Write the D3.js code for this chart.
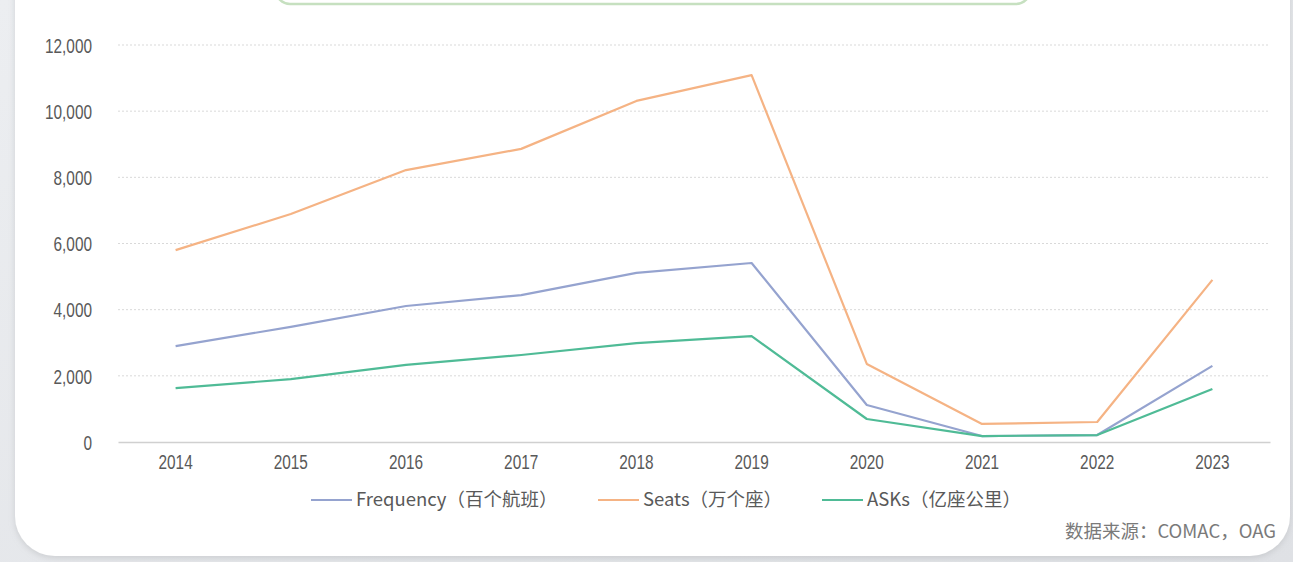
<!DOCTYPE html>
<html><head><meta charset="utf-8">
<script src="https://cdn.jsdelivr.net/npm/d3@7"></script>
<style>
html,body{margin:0;padding:0;background:#e6e7ea;}
svg{display:block;}
</style></head>
<body>
<svg id="c" width="1293" height="562"></svg>
<script>
const years = ["2014","2015","2016","2017","2018","2019","2020","2021","2022","2023"];
const frequency = [2900,3480,4110,4440,5110,5410,1120,180,210,2300];
const seats = [5800,6890,8220,8860,10310,11090,2360,545,605,4900];
const asks = [1630,1900,2330,2630,2990,3200,695,180,210,1600];
const yTicks = [0,2000,4000,6000,8000,10000,12000];
const seriesNames = ["Frequency（百个航班）","Seats（万个座）","ASKs（亿座公里）"];
const seriesColors = ["#95a3cf","#f5b384","#4fbb96"];
const source = "数据来源：COMAC，OAG";

const svg = d3.select("#c");
const defs = svg.append("defs");
const g1 = defs.append("linearGradient").attr("id","bg").attr("x1",0).attr("x2",1).attr("y1",0).attr("y2",1);
g1.append("stop").attr("offset","0%").attr("stop-color","#eceef1");
g1.append("stop").attr("offset","100%").attr("stop-color","#dfe1e5");
svg.append("rect").attr("width",1293).attr("height",562).attr("fill","url(#bg)");
const f = defs.append("filter").attr("id","sh").attr("x","-5%").attr("y","-5%").attr("width","110%").attr("height","115%");
f.append("feDropShadow").attr("dx",0).attr("dy",2).attr("stdDeviation",3).attr("flood-color","#9a9ca0").attr("flood-opacity",0.35);
svg.append("rect").attr("x",15).attr("y",-60).attr("width",1275).attr("height",616).attr("rx",40).attr("fill","#ffffff").attr("filter","url(#sh)");

// top green box (partially visible)
svg.append("rect").attr("x",276).attr("y",-40).attr("width",754).attr("height",44).attr("rx",14)
  .attr("fill","none").attr("stroke","#c6e0c0").attr("stroke-width",2.5);

const margin = {left:118, right:1270, top:45, bottom:442};
const x = d3.scaleBand().domain(years).range([margin.left, margin.right]);
const y = d3.scaleLinear().domain([0,12000]).range([margin.bottom, margin.top]);

const tickFont = "'Liberation Sans',Arial,sans-serif";
const squeeze = 0.75;
function narrow(sel){
  sel.each(function(){
    const t = d3.select(this);
    const xx = +t.attr("x") || 0;
    t.attr("transform",`translate(${xx},0) scale(${squeeze},1) translate(${-xx},0)`);
  });
}

// gridlines
svg.append("g").selectAll("line").data(yTicks.filter(d=>d>0)).join("line")
  .attr("x1",margin.left).attr("x2",margin.right)
  .attr("y1",d=>y(d)).attr("y2",d=>y(d))
  .attr("stroke","#d9d9d9").attr("stroke-width",1).attr("stroke-dasharray","2,2");

// y axis
const yAxis = d3.axisLeft(y).tickValues(yTicks).tickFormat(d3.format(",")).tickSize(0).tickPadding(0);
const ya = svg.append("g").attr("transform",`translate(${92},0)`).call(yAxis);
ya.select(".domain").remove();
ya.selectAll("text").attr("font-family",tickFont).attr("font-size",20.5).attr("fill","#595959").attr("dy","0.35em").call(narrow);

// x axis
const xAxis = d3.axisBottom(x).tickSize(0).tickPadding(8);
const xa = svg.append("g").attr("transform",`translate(0,${margin.bottom})`).call(xAxis);
xa.select(".domain").attr("stroke","#d0d0d0").attr("stroke-width",1.5);
xa.selectAll("text").attr("font-family",tickFont).attr("font-size",20.5).attr("fill","#595959").attr("dy","0.95em").call(narrow);

const line = d3.line().x((d,i)=>x(years[i])+x.bandwidth()/2).y(d=>y(d));
[frequency, seats, asks].forEach((s,i)=>{
  svg.append("path").datum(s).attr("d",line).attr("fill","none")
    .attr("stroke",seriesColors[i]).attr("stroke-width",2.2).attr("stroke-linejoin","round");
});

// legend
const legX = [311, 598, 822];
const legFont = "'Noto Sans CJK SC','Noto Sans',sans-serif";
const lg = svg.append("g");
seriesNames.forEach((n,i)=>{
  lg.append("line").attr("x1",legX[i]).attr("x2",legX[i]+41).attr("y1",500).attr("y2",500)
    .attr("stroke",seriesColors[i]).attr("stroke-width",2);
  lg.append("text").attr("x",legX[i]+45).attr("y",500).attr("dy","0.35em")
    .attr("font-family",legFont).attr("font-size",18.5).attr("fill","#595959").text(n);
});

svg.append("text").attr("x",1276).attr("y",532).attr("dy","0.35em").attr("text-anchor","end")
  .attr("font-family",legFont).attr("font-size",18.5).attr("fill","#7a7a7a").text(source);
</script>
</body></html>
